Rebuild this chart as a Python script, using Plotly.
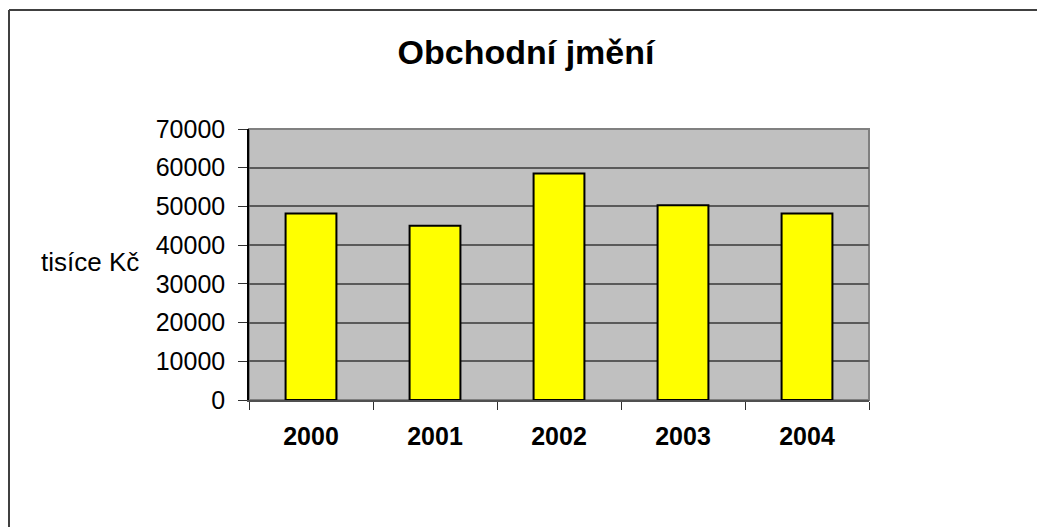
import plotly.graph_objects as go

years = ["2000", "2001", "2002", "2003", "2004"]
values = [48200, 45000, 58500, 50300, 48200]
y_ticks = [0, 10000, 20000, 30000, 40000, 50000, 60000, 70000]
title_text = "Obchodní jmění"
y_title = "tisíce Kč"

OFF = 8  # page body margin
W, H = 1045 - OFF, 527 - OFF
L, R, T, B = 249 - OFF, 869 - OFF, 129 - OFF, 400 - OFF  # plot area in figure pixels

def px_x(px):
    return (px - OFF - L) / (R - L)

def px_y(py):
    return (B - (py - OFF)) / (B - T)

fig = go.Figure()
fig.add_trace(go.Bar(
    x=years, y=values, width=0.41,
    marker=dict(color="#FFFF00", line=dict(color="#000000", width=2)),
))

fig.update_layout(
    width=W, height=H,
    margin=dict(l=L, r=W - R, t=T, b=H - B, pad=0),
    paper_bgcolor="white",
    plot_bgcolor="#C0C0C0",
    showlegend=False,
    font=dict(family="Liberation Sans, Arial, sans-serif", color="black"),
    title=dict(text=title_text, x=(526 - OFF) / W, xanchor="center",
               y=1 - (52 - OFF) / H, yanchor="middle",
               font=dict(size=34, weight="bold", color="black")),
    bargap=0.59,
)

fig.update_xaxes(
    type="category",
    showline=True, linecolor="#505050", linewidth=2,
    ticks="outside", tickson="boundaries", ticklen=8, tickcolor="#303030", tickwidth=1,
    tickfont=dict(size=25, weight="bold", color="black"),
    ticklabelstandoff=13,
    showgrid=False,
)
fig.update_yaxes(
    range=[0, 70000], tickvals=y_ticks, ticktext=[str(v) for v in y_ticks],
    showline=True, linecolor="#000000", linewidth=1.5,
    ticks="outside", ticklen=9, tickcolor="#303030", tickwidth=1,
    tickfont=dict(size=25, color="black"),
    ticklabelstandoff=8,
    showgrid=True, gridcolor="#5A5A5A", gridwidth=1.5,
    zeroline=False,
)

# plot area border (gray, Excel style)
fig.add_shape(type="rect", xref="paper", yref="paper", x0=0, x1=1, y0=0, y1=1,
              line=dict(color="#808080", width=2), layer="below", fillcolor="rgba(0,0,0,0)")

# chart border: only top & left edges are inside the picture
x_left = (1 - L) / (R - L)
fig.add_shape(type="line", xref="paper", yref="paper",
              x0=x_left, x1=px_x(1060), y0=px_y(10), y1=px_y(10),
              line=dict(color="#404040", width=2))
fig.add_shape(type="line", xref="paper", yref="paper",
              x0=x_left, x1=x_left, y0=px_y(10), y1=px_y(560),
              line=dict(color="#404040", width=2))

fig.add_annotation(text=y_title, xref="paper", yref="paper",
                   x=px_x(141), xanchor="right", y=px_y(262), yanchor="middle",
                   showarrow=False, font=dict(size=26, color="black"))

fig.write_html("out.html")
